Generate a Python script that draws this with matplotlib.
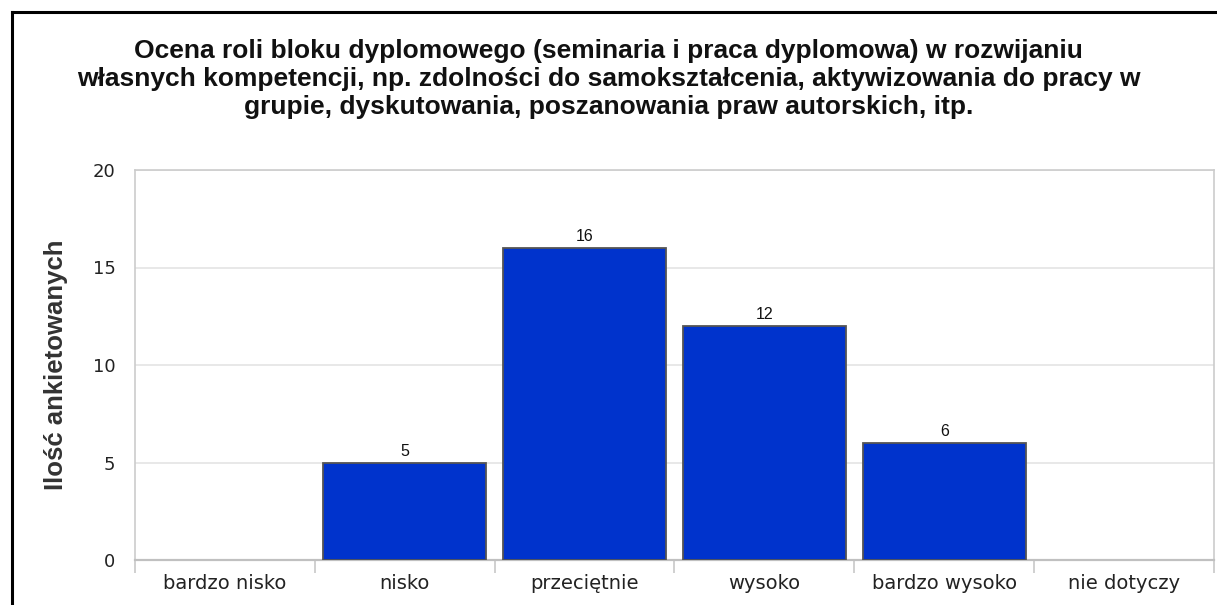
import numpy as np
import matplotlib
matplotlib.use('Agg')
import matplotlib.pyplot as plt
from matplotlib.lines import Line2D

# Chart data
categories = ['bardzo nisko', 'nisko', 'przeciętnie', 'wysoko', 'bardzo wysoko', 'nie dotyczy']
counts = [0, 5, 16, 12, 6, 0]
y_ticks = [0, 5, 10, 15, 20]

title = ('Ocena roli bloku dyplomowego (seminaria i praca dyplomowa) w rozwijaniu\n'
         'własnych kompetencji, np. zdolności do samokształcenia, aktywizowania do pracy w\n'
         'grupie, dyskutowania, poszanowania praw autorskich, itp.')
y_label = 'Ilość ankietowanych'

W, H = 1217, 605
fig = plt.figure(figsize=(W / 100, H / 100), dpi=100)
fig.patch.set_facecolor('white')

# axes placed in pixel terms
left, right, top, bottom = 135, 1214, 170, 560
ax = fig.add_axes([left / W, 1 - bottom / H, (right - left) / W, (bottom - top) / H])

x = np.arange(len(categories))
edges = ['#555555' if c > 0 else 'none' for c in counts]
bars = ax.bar(x, counts, width=0.905, color='#0033cc', edgecolor=edges, linewidth=1.3, zorder=3)

for xi, c in zip(x, counts):
    if c > 0:
        ax.text(xi, c + 0.2, str(c), ha='center', va='bottom',
                fontsize=11.5, family='Liberation Sans', color='#111111')

ax.set_xlim(-0.5, len(categories) - 0.5)
ax.set_ylim(0, 20)
ax.set_yticks(y_ticks)
ax.set_yticklabels([str(t) for t in y_ticks], fontsize=13, family='DejaVu Sans', color='#222222')
ax.tick_params(axis='y', length=0, pad=14)

# category labels centred, tick marks on boundaries
ax.set_xticks(x)
ax.set_xticklabels(categories, fontsize=14, family='DejaVu Sans', color='#222222')
ax.tick_params(axis='x', which='major', length=0, pad=10)
ax.set_xticks(np.arange(len(categories) + 1) - 0.5, minor=True)
ax.tick_params(axis='x', which='minor', length=9, color='#c8c8c8', width=1.2)

ax.grid(axis='y', color='#e4e4e4', linewidth=1.2, zorder=0)
ax.set_axisbelow(True)
for s in ax.spines.values():
    s.set_color('#cccccc')
    s.set_linewidth(1.2)
ax.spines['bottom'].set_color('#c0c0c0')
ax.spines['bottom'].set_linewidth(1.6)

ax.set_ylabel(y_label, fontsize=18.5, fontweight='bold', family='Liberation Sans',
              color='#333333', labelpad=18)

fig.text(0.5, 1 - 79 / H, title, ha='center', va='center', fontsize=19,
         fontweight='bold', family='Liberation Sans', color='#111111', linespacing=1.2)

# black frame (top and left edges visible)
fig.add_artist(Line2D([12 / W, 12 / W], [0, 1 - 12 / H], color='black', linewidth=2.2))
fig.add_artist(Line2D([12 / W, 1], [1 - 12 / H, 1 - 12 / H], color='black', linewidth=2.2))

fig.savefig('out.png', dpi=100)
